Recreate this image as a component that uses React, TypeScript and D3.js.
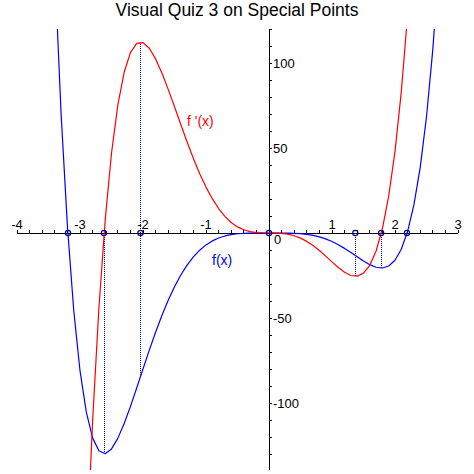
import React from "react";
import * as d3 from "d3";

const title = "Visual Quiz 3 on Special Points";

const fX = [-3.4, -3.3, -3.2, -3.1, -3.0, -2.9, -2.8, -2.7, -2.6, -2.5, -2.4, -2.3, -2.2, -2.1, -2.0, -1.9, -1.8, -1.7, -1.6, -1.5, -1.4, -1.3, -1.2, -1.1, -1.0, -0.9, -0.8, -0.7, -0.6, -0.5, -0.4, -0.3, -0.2, -0.1, 0, 0.1, 0.2, 0.3, 0.4, 0.5, 0.6, 0.7, 0.8, 0.9, 1.0, 1.1, 1.2, 1.3, 1.4, 1.5, 1.6, 1.7, 1.8, 1.9, 2.0, 2.1, 2.2, 2.3, 2.4, 2.5, 2.6, 2.7];
const fY = [155.0, 70.0, 4.2, -45.3, -81.0, -105.4, -120.5, -128.1, -129.8, -127.0, -120.8, -112.2, -102.1, -91.2, -80.0, -68.9, -58.4, -48.5, -39.6, -31.6, -24.7, -18.9, -14.0, -10.1, -7.0, -4.65, -2.93, -1.73, -0.94, -0.45, -0.19, -0.06, -0.01, 0, 0, 0, -0.01, -0.05, -0.16, -0.39, -0.78, -1.39, -2.28, -3.47, -5.0, -6.87, -9.04, -11.45, -13.98, -16.45, -18.61, -20.13, -20.58, -19.42, -16.0, -9.53, 0.94, 16.5, 38.5, 68.4, 107.9, 158.9];

const fpX = [-2.9, -2.8, -2.7, -2.6, -2.5, -2.4, -2.3, -2.2, -2.1, -2.0, -1.9, -1.8, -1.7, -1.6, -1.5, -1.4, -1.3, -1.2, -1.1, -1.0, -0.9, -0.8, -0.7, -0.6, -0.5, -0.4, -0.3, -0.2, -0.1, 0, 0.1, 0.2, 0.3, 0.4, 0.5, 0.6, 0.7, 0.8, 0.9, 1.0, 1.1, 1.2, 1.3, 1.4, 1.5, 1.6, 1.7, 1.8, 1.9, 2.0, 2.1, 2.2];
const fpY = [-194.1, -110.6, -44.1, 7.7, 46.9, 75.2, 94.4, 106.1, 111.5, 112.0, 108.7, 102.4, 94.1, 84.5, 74.3, 63.8, 53.5, 43.8, 34.9, 27.0, 20.2, 14.4, 9.8, 6.2, 3.6, 1.9, 0.78, 0.23, 0.03, 0, -0.03, -0.21, -0.7, -1.6, -3.0, -4.93, -7.4, -10.3, -13.6, -17.0, -20.3, -23.1, -25.0, -25.4, -23.6, -19.0, -10.6, 2.6, 21.7, 48.0, 83.0, 128.2];

const specialX = [-3.19, -2.62, -2.04, 0, 1.37, 1.78, 2.19];
const dropX = [-2.04, -2.62, 1.37, 1.78];
const dropFrom = [112.3, 0, 0, 0];
const dropTo = [-84.6, -130.0, -25.4, -20.6];

const xMajor = [-4, -3, -2, -1, 1, 2, 3];
const yMajor = [100, 50, -50, -100];

const X0 = 17, X1 = 458, Y0 = 29, Y1 = 470;

export default function App() {
  const x = d3.scaleLinear().domain([-4, 3]).range([X0, X1]);
  const y = d3.scaleLinear().domain([-139.4, 120]).range([Y1, Y0]);

  const line = d3
    .line<[number, number]>()
    .x((d) => x(d[0]))
    .y((d) => y(d[1]));

  const fPath = line(fX.map((v, i) => [v, fY[i]] as [number, number])) || "";
  const fpPath = line(fpX.map((v, i) => [v, fpY[i]] as [number, number])) || "";

  const xMinor = d3.range(-20, 16).map((k) => k / 5).filter((v) => Math.abs(v) > 1e-9);
  const yMinor = d3.range(-13, 13).map((k) => k * 10).filter((v) => v !== 0);

  const font = "'Liberation Sans', Arial, Helvetica, sans-serif";
  const navy = "#00008b";
  const ax = x(0);
  const ay = y(0);

  return (
    <svg
      width={474}
      height={474}
      style={{ position: "absolute", left: 0, top: 0, background: "#fff" }}
      fontFamily={font}
    >
      <defs>
        <clipPath id="plotClip">
          <rect x={X0} y={Y0} width={X1 - X0} height={Y1 - Y0} />
        </clipPath>
      </defs>
      <rect x={0} y={0} width={474} height={474} fill="#fff" />
      <text x={237} y={16} textAnchor="middle" fontSize={17.5} fill="#000">
        {title}
      </text>

      {/* axes */}
      <g shapeRendering="crispEdges" stroke="#000" strokeWidth={1}>
        <line x1={X0} x2={X1} y1={ay} y2={ay} />
        <line x1={ax} x2={ax} y1={Y0} y2={Y1} />
        {xMinor.map((v, i) => (
          <line key={"xt" + i} x1={x(v)} x2={x(v)} y1={ay} y2={ay - 3} />
        ))}
        {yMinor.map((v, i) => (
          <line key={"yt" + i} x1={ax} x2={ax + 3} y1={y(v)} y2={y(v)} />
        ))}
      </g>
      <g fontSize={13} fill="#000">
        {xMajor.map((v) => (
          <text key={"xl" + v} x={x(v)} y={ay - 4} textAnchor="middle">
            {v}
          </text>
        ))}
        <text x={ax + 5} y={ay + 11}>0</text>
        {yMajor.map((v) => (
          <text key={"yl" + v} x={ax + 4} y={y(v) + 5}>
            {v}
          </text>
        ))}
      </g>

      {/* dotted drop lines */}
      <g stroke={navy} strokeWidth={1} strokeDasharray="1,1" shapeRendering="crispEdges">
        {dropX.map((v, i) => (
          <line
            key={"d" + i}
            x1={Math.round(x(v)) + 0.5}
            x2={Math.round(x(v)) + 0.5}
            y1={y(dropFrom[i])}
            y2={y(dropTo[i])}
          />
        ))}
      </g>

      <g clipPath="url(#plotClip)" fill="none" strokeWidth={1.2} strokeLinejoin="round">
        <path d={fPath} stroke="#0000ff" />
        <path d={fpPath} stroke="#ff0000" />
      </g>

      {/* special points */}
      <g fill="none" stroke={navy} strokeWidth={1.2}>
        {specialX.map((v, i) => (
          <circle key={"c" + i} cx={x(v)} cy={ay} r={2.6} />
        ))}
      </g>

      <text x={187} y={126} fontSize={14} fill="#ff0000">f '(x)</text>
      <text x={212} y={265} fontSize={14} fill="#0000ff">f(x)</text>
    </svg>
  );
}
